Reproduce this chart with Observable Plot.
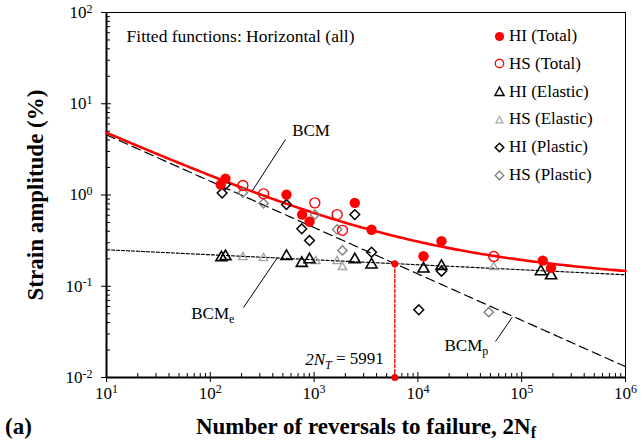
<!DOCTYPE html>
<html><head><meta charset="utf-8">
<script src="https://cdn.jsdelivr.net/npm/d3@7"></script>
<script src="https://cdn.jsdelivr.net/npm/@observablehq/plot@0.6"></script>
<style>
body{margin:0;background:#fff;}
#wrap{position:relative;width:643px;height:445px;font-family:"Liberation Serif","Times New Roman",serif;color:#000;overflow:hidden;}
.ov{position:absolute;white-space:nowrap;}
.ttl{font-weight:bold;font-size:23px;line-height:23px;}
.leg{position:absolute;left:493px;height:20px;display:flex;align-items:center;font-size:17px;white-space:nowrap;}
.leg svg{margin-right:3px;}
sub{font-size:70%;vertical-align:-4px;line-height:0;}
</style></head><body><div id="wrap"></div>
<script>
// ---- data: [2Nf, strain amplitude %] ----
const hiTotal   = [[126,1.30],[140,1.51],[542,1.01],[767,0.61],[903,0.51],[2466,0.82],[3574,0.416],[11320,0.213],[16870,0.312],[159600,0.191],[192000,0.159]];
const hsTotal   = [[206,1.27],[326,1.03],[1016,0.82],[1667,0.61],[1875,0.41],[53830,0.212]];
const hiElastic = [[128,0.206],[140,0.212],[542,0.213],[761,0.179],[903,0.196],[2466,0.196],[3574,0.172],[11320,0.155],[16870,0.166],[153000,0.145],[192000,0.131]];
const hsElastic = [[206,0.208],[326,0.203],[1040,0.188],[1667,0.188],[1875,0.162],[53830,0.162]];
const hiPlastic = [[130,1.05],[140,1.30],[542,0.787],[761,0.426],[903,0.317],[2466,0.61],[3574,0.236],[10200,0.0552],[16870,0.146]];
const hsPlastic = [[206,1.06],[326,0.81],[1016,0.61],[1667,0.419],[1875,0.247],[48200,0.052]];
const seriesNames = ["HI (Total)","HS (Total)","HI (Elastic)","HS (Elastic)","HI (Plastic)","HS (Plastic)"];

// fitted (Basquin–Coffin–Manson) parameters
const elasticCoef = 0.285, elasticExp = -0.0548;
const plasticCoef = 14.69, plasticExp = -0.508;
const transitionN = 5991;

// tick values
const xMajor = [1e1,1e2,1e3,1e4,1e5,1e6];
const yMajor = [1e-2,1e-1,1e0,1e1,1e2];
const minorMult = [2,3,4,5,6,7,8,9];

// annotation positions (data space)
const notes = [
  {x:615, y:5.09, t:"BCM"},
  {x:65.5, y:0.0503, t:"BCM", sub:"e"},
  {x:18030, y:0.0224, t:"BCM", sub:"p"}
];
const leaders = [
  {x1:530, y1:4.06, x2:255, y2:1.12},
  {x1:209, y1:0.0585, x2:444, y2:0.2065},
  {x1:55970, y1:0.0248, x2:81000, y2:0.0458}
];

const elastic = n => elasticCoef * Math.pow(n, elasticExp);
const plastic = n => plasticCoef * Math.pow(n, plasticExp);
const curveN = d3.range(1, 6.0001, 0.025).map(l => Math.pow(10, l));
const curve = curveN.map(n => ({n, e: elastic(n), p: plastic(n), t: elastic(n) + plastic(n)}));
const xMinor = xMajor.slice(0,-1).flatMap(d => minorMult.map(m => d*m));
const yMinor = yMajor.slice(0,-1).flatMap(d => minorMult.map(m => d*m));
const tr = [[transitionN, 0.01],[transitionN, elastic(transitionN)]];

const serif = '"Liberation Serif","Times New Roman",serif';
const fmt = d => "10^" + Math.round(Math.log10(d));
const blank = () => "";

const chart = Plot.plot({
  width: 643, height: 445,
  marginLeft: 106, marginRight: 18, marginTop: 12, marginBottom: 68,
  x: {type: "log", domain: [10, 1e6]},
  y: {type: "log", domain: [0.01, 100]},
  style: {fontFamily: serif, fontSize: "17px", color: "#000", background: "#fff"},
  marks: [
    Plot.frame({stroke: "#000", strokeWidth: 1}),
    Plot.axisX({ticks: xMinor, tickSize: -4, tickFormat: blank, label: null}),
    Plot.axisX({ticks: xMajor, tickSize: -5, tickFormat: blank, label: null}),
    Plot.axisX({ticks: xMajor, tickSize: 5, tickPadding: 4, tickFormat: fmt, label: null, fontSize: 17}),
    Plot.axisY({ticks: yMinor, tickSize: -4, tickFormat: blank, label: null}),
    Plot.axisY({ticks: yMajor, tickSize: -5, tickFormat: blank, label: null}),
    Plot.axisY({ticks: yMajor, tickSize: 5, tickPadding: 9, tickFormat: fmt, label: null, fontSize: 17}),
    Plot.ruleY([0.01], {stroke: "#000", strokeWidth: 2}),
    Plot.ruleX([10], {stroke: "#000", strokeWidth: 2}),
    Plot.line(curve, {x: "n", y: "e", stroke: "#000", strokeWidth: 1.2, strokeDasharray: "3,2"}),
    Plot.line(curve, {x: "n", y: "p", stroke: "#000", strokeWidth: 1.2, strokeDasharray: "9,5"}),
    Plot.line(curve, {x: "n", y: "t", stroke: "#ff0000", strokeWidth: 2.6}),
    Plot.line(tr, {x: d => d[0], y: d => d[1], stroke: "#ff0000", strokeWidth: 1.4, strokeDasharray: "3,2"}),
    Plot.dot(tr, {x: d => d[0], y: d => d[1], fill: "#ff0000", r: 3.5}),
    Plot.link(leaders, {x1: "x1", y1: "y1", x2: "x2", y2: "y2", stroke: "#000", strokeWidth: 1}),
    Plot.dot(hsPlastic, {x: d => d[0], y: d => d[1], symbol: "diamond2", r: 4.2, stroke: "#808080", strokeWidth: 1.4, fill: "none"}),
    Plot.dot(hiPlastic, {x: d => d[0], y: d => d[1], symbol: "diamond2", r: 4.4, stroke: "#000", strokeWidth: 1.5, fill: "none"}),
    Plot.dot(hsElastic, {x: d => d[0], y: d => d[1], symbol: "triangle", r: 3.1, stroke: "#a6a6a6", strokeWidth: 1.4, fill: "none"}),
    Plot.dot(hiElastic, {x: d => d[0], y: d => d[1], symbol: "triangle", r: 4.1, stroke: "#000", strokeWidth: 1.6, fill: "none"}),
    Plot.dot(hsTotal, {x: d => d[0], y: d => d[1], r: 5, stroke: "#ff0000", strokeWidth: 1.4, fill: "none"}),
    Plot.dot(hiTotal, {x: d => d[0], y: d => d[1], r: 5.2, fill: "#ff0000"}),
    Plot.text(notes, {x: "x", y: "y", text: d => d.t + (d.sub ? "_" + d.sub : ""), textAnchor: "start", fontSize: 17, fill: "#000"}),
    Plot.text([{x: 15.6, y: 54.6}], {x: "x", y: "y", text: () => "Fitted functions: Horizontal (all)", textAnchor: "start", fontSize: 17.5, fill: "#000"}),
    Plot.text([{x: 4694, y: 0.0157, n: transitionN}], {x: "x", y: "y", text: d => "2N_T = " + d.n, textAnchor: "end", fontSize: 17, fill: "#000"})
  ]
});

// superscripts / subscripts as real text
d3.select(chart).selectAll("text").each(function() {
  const s = this.textContent;
  let m = s.match(/^10\^(-?\d+)$/);
  if (m) {
    const el = d3.select(this); el.text("10");
    el.append("tspan").attr("dy", "-0.45em").attr("font-size", "12px").text(m[1]);
    return;
  }
  m = s.match(/^BCM_(\w)$/);
  if (m) {
    const el = d3.select(this); el.text("BCM");
    el.append("tspan").attr("dy", "0.3em").attr("font-size", "12px").text(m[1]);
    return;
  }
  m = s.match(/^2N_T = (\d+)$/);
  if (m) {
    const el = d3.select(this); el.text("");
    el.append("tspan").attr("font-style", "italic").text("2N");
    el.append("tspan").attr("font-style", "italic").attr("font-size", "12px").attr("dy", "0.3em").text("T");
    el.append("tspan").attr("dy", "-0.3em").text(" = " + m[1]);
  }
});

const wrap = document.getElementById("wrap");
wrap.appendChild(chart);

// titles
const xt = document.createElement("div");
xt.className = "ov ttl"; xt.style.left = "366px"; xt.style.top = "415px"; xt.style.transform = "translateX(-50%)";
xt.innerHTML = "Number of reversals to failure, 2N<sub>f</sub>";
wrap.appendChild(xt);
const yt = document.createElement("div");
yt.className = "ov ttl"; yt.style.left = "35px"; yt.style.top = "194.5px"; yt.style.transform = "translate(-50%,-50%) rotate(-90deg)";
yt.textContent = "Strain amplitude (%)";
wrap.appendChild(yt);
const pa = document.createElement("div");
pa.className = "ov ttl"; pa.style.left = "5px"; pa.style.top = "415px";
pa.textContent = "(a)";
wrap.appendChild(pa);

// legend
const legSym = [
  '<circle cx="6.5" cy="6.5" r="4.6" fill="#ff0000"/>',
  '<circle cx="6.5" cy="6.5" r="4.2" fill="none" stroke="#ff0000" stroke-width="1.3"/>',
  '<path d="M6.5,2 L11,10.5 L2,10.5 Z" fill="none" stroke="#000" stroke-width="1.5"/>',
  '<path d="M6.5,3.5 L10,9.8 L3,9.8 Z" fill="none" stroke="#a6a6a6" stroke-width="1.3"/>',
  '<path d="M6.5,2.2 L10.8,6.5 L6.5,10.8 L2.2,6.5 Z" fill="none" stroke="#000" stroke-width="1.5"/>',
  '<path d="M6.5,2.2 L10.8,6.5 L6.5,10.8 L2.2,6.5 Z" fill="none" stroke="#808080" stroke-width="1.3"/>'
];
const legY = [36, 63.8, 91.6, 119.4, 147.2, 175];
seriesNames.forEach((name, i) => {
  const d = document.createElement("div");
  d.className = "leg"; d.style.top = (legY[i] - 10) + "px";
  d.innerHTML = '<svg width="13" height="13">' + legSym[i] + '</svg><span>' + name + '</span>';
  wrap.appendChild(d);
});
</script></body></html>
